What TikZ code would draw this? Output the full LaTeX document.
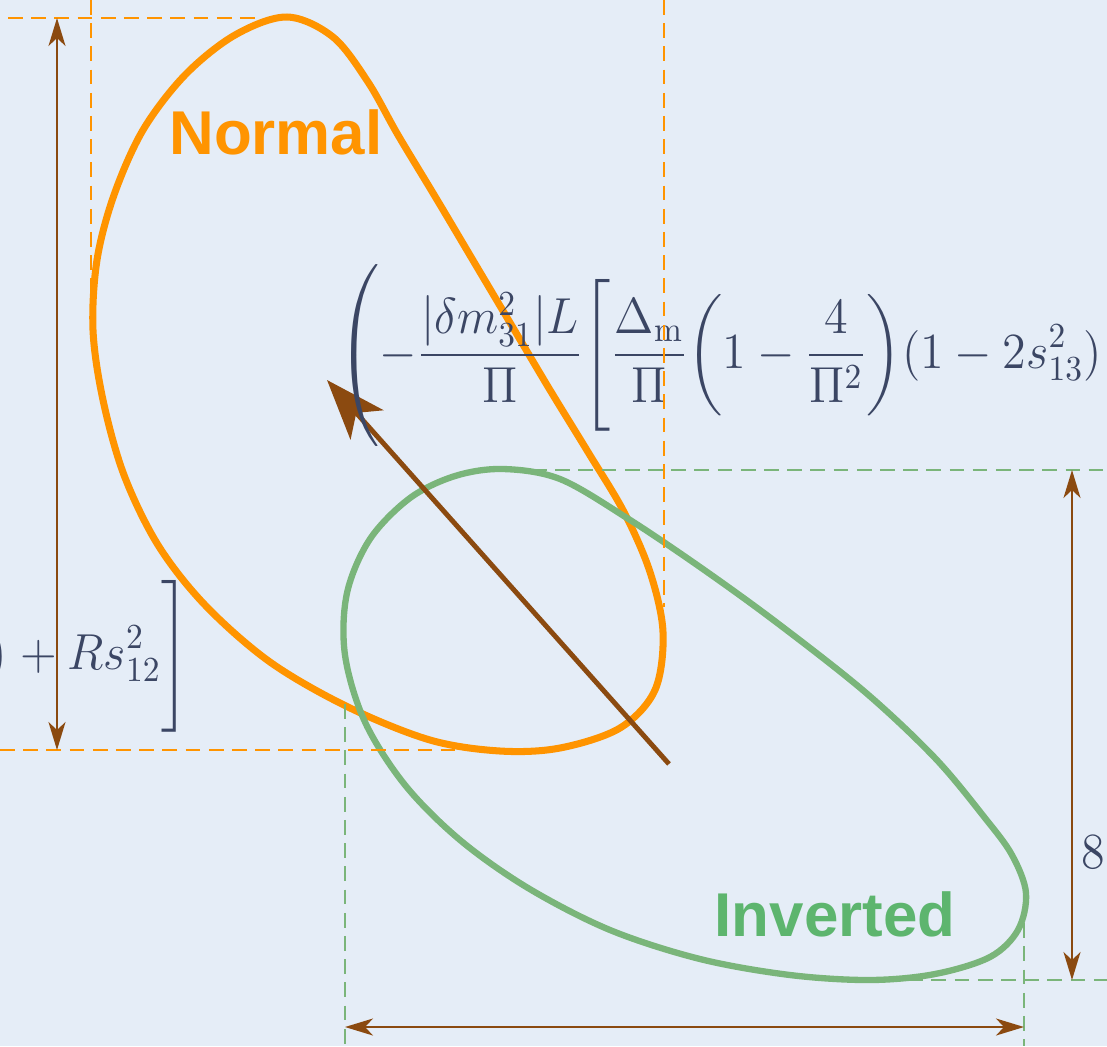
\documentclass[tikz,border=0pt]{standalone}
\usepackage{amsmath,amssymb}
\usepackage{graphicx}
\usepackage{fontspec}
\newfontfamily\hlabel{Liberation Sans}
\usepackage{tikz}
\usetikzlibrary{arrows.meta}

\definecolor{paper}{HTML}{E5EDF7}
\definecolor{normalc}{HTML}{FF9400}
\definecolor{invc}{HTML}{7AB57A}
\definecolor{invtext}{HTML}{5DB56E}
\definecolor{rust}{HTML}{8B4A10}
\definecolor{ink}{HTML}{3B4664}

\begin{document}
\begin{tikzpicture}[x=0.1mm, y=-0.1mm,
    loop/.style={line width=2pt, line join=round},
    guide/.style={dashed, dash pattern=on 4.2pt off 2.4pt, line width=0.6pt},
    dimline/.style={rust, line width=0.6pt, {Stealth[length=2.8mm, width=1.7mm, inset=0.8mm]}-{Stealth[length=2.8mm, width=1.7mm, inset=0.8mm]}},
    formula/.style={ink, inner sep=0pt, font=\fontsize{14.4}{17}\selectfont},
    tag/.style={inner sep=0pt, font=\hlabel\bfseries\fontsize{17.6}{20}\selectfont}]
      \useasboundingbox (0,0) rectangle (1107,1046);
      \clip (0,0) rectangle (1107,1046);
      \fill[paper] (0,0) rectangle (1107,1046);

      % the two hierarchies
      \draw[loop, normalc] plot[smooth cycle, tension=0.55] coordinates {
         (287,17) (333,37) (368,82) (398,135) (436,198) (474,262) (512,326)
         (550,390) (588,452) (624,512) (650,572) (663,632) (655,690) (620,728)
         (560,748) (500,751) (430,740) (348,707) (270,662) (205,605) (158,545)
         (124,475) (103,400) (93,330) (97,260) (114,195) (143,130) (185,75) (235,35)};
      \draw[loop, invc, line width=1.8pt] plot[smooth cycle, tension=0.55] coordinates {
         (503,469) (560,479) (627,518) (700,567) (776,622) (865,692) (935,758)
         (985,818) (1012,855) (1026,893) (1018,930) (990,957) (935,974) (870,980)
         (790,975) (700,959) (610,930) (528,888) (460,840) (405,785) (365,722)
         (345,655) (347,593) (370,539) (410,498) (455,476)};

      \coordinate (from) at (669,764);
      \coordinate (to) at (327,380);
      \draw[rust, line width=1.4pt, -{Stealth[length=6mm, width=4.4mm, inset=1.6mm]}] (from) -- (to);

      \node[formula, anchor=base west] (lineA) at (337,368)
         {\scalebox{0.95}[1]{$\displaystyle\left(\vrule width0pt height30.6pt depth23.4pt
           -\frac{|\delta m_{31}^2|L}{\Pi}\Biggl[\frac{\Delta_{\mathrm{m}}}{\Pi}
           \biggl(1-\frac{4}{\Pi^2}\biggr)(1-2s_{13}^2)\right.$}};
      \node[formula, anchor=base east] (lineB) at (190,669)
         {\scalebox{0.95}[1]{$\displaystyle\bigr)+Rs_{12}^2\Biggr]$}};
      \node[formula, anchor=base west] (eight) at (1081,868) {\scalebox{0.95}[1]{$8.$}};

      % orange box
      \draw[guide, normalc] (8,18) -- (262,18);
      \draw[guide, normalc] (91,0) -- (91,318);
      \draw[guide, normalc] (664,0) -- (664,607);
      \draw[guide, normalc] (0,750) -- (543,750);
      % green box
      \draw[guide, invc] (532,470) -- (1107,470);
      \draw[guide, invc] (345,704) -- (345,1046);
      \draw[guide, invc] (1024,900) -- (1024,1046);
      \draw[guide, invc] (885,980) -- (1107,980);

      \coordinate (ntop) at (57,18);
      \coordinate (nbot) at (57,750);
      \coordinate (itop) at (1072,470);
      \coordinate (ibot) at (1072,980);
      \coordinate (ileft) at (345,1027);
      \coordinate (iright) at (1024,1027);
      \draw[dimline] (ntop) -- (nbot);
      \draw[dimline] (itop) -- (ibot);
      \draw[dimline] (ileft) -- (iright);

      \node[tag, normalc] (normal) at (276,132) {Normal};
      \node[tag, invtext] (inverted) at (835,914) {Inverted};
    \end{tikzpicture}
\end{document}
